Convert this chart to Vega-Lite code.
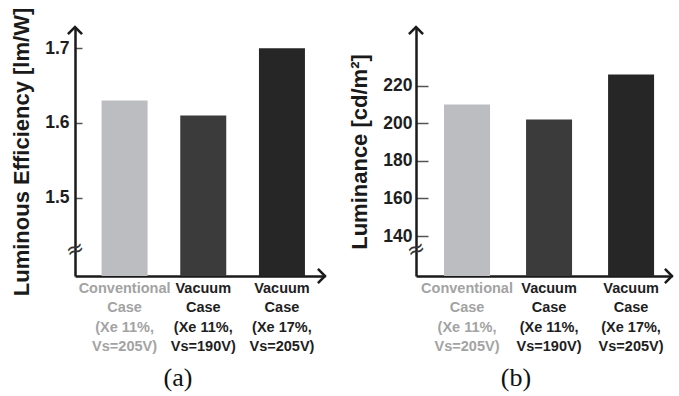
{
  "$schema": "https://vega.github.io/schema/vega-lite/v6.json",
  "background": "#ffffff",
  "padding": {"left": 10, "top": 7, "right": 5, "bottom": 5},
  "spacing": 18,
  "datasets": {
    "eff": [
      {"case": "Conventional\nCase\n(Xe 11%,\nVs=205V)", "value": 1.63},
      {"case": "Vacuum\nCase\n(Xe 11%,\nVs=190V)", "value": 1.61},
      {"case": "Vacuum \nCase\n(Xe 17%,\nVs=205V)", "value": 1.70}
    ],
    "lum": [
      {"case": "Conventional\nCase\n(Xe 11%,\nVs=205V)", "value": 210},
      {"case": "Vacuum\nCase\n(Xe 11%,\nVs=190V)", "value": 202},
      {"case": "Vacuum \nCase\n(Xe 17%,\nVs=205V)", "value": 226}
    ],
    "one": [{}]
  },
  "config": {
    "view": {"stroke": null},
    "font": "Liberation Sans",
    "axis": {
      "domainColor": "#1a1a1a",
      "domainWidth": 2.5,
      "ticks": false,
      "labelFont": "Liberation Sans",
      "labelFontWeight": "bold",
      "labelColor": "#1e1e1e",
      "titleFont": "Liberation Sans",
      "titleFontWeight": "bold",
      "titleColor": "#1a1a1a",
      "grid": false
    }
  },
  "hconcat": [
    {
      "width": 250,
      "height": 249,
      "title": {"text": "(a)", "orient": "bottom", "font": "Liberation Serif", "fontSize": 26, "fontWeight": "normal", "color": "#111111", "offset": 12, "dx": -22},
      "resolve": {"scale": {"x": "independent"}},
      "layer": [
        {
          "data": {"name": "eff"},
          "mark": {"type": "bar", "size": 46, "clip": true},
          "encoding": {
            "x": {
              "field": "case", "type": "nominal", "sort": null,
              "scale": {"paddingInner": 0.415, "paddingOuter": 0.296, "align": 0.57},
              "axis": {
                "title": null, "labelAngle": 0, "labelFontSize": 14.5,
                "labelLineHeight": 19.5, "labelPadding": 5, "labelBaseline": "top",
                "labelExpr": "split(datum.label, '\\n')",
                "labelColor": {"condition": {"test": "indexof(datum.value, 'Conventional') >= 0", "value": "#a3a3a3"}, "value": "#1e1e1e"}
              }
            },
            "y": {
              "field": "value", "type": "quantitative",
              "scale": {"domain": [1.3948, 1.7286], "nice": false, "zero": false},
              "axis": {
                "title": "Luminous Efficiency [lm/W]", "titleFontSize": 22, "titlePadding": 11,
                "values": [1.5, 1.6, 1.7], "format": ".1f",
                "labelFontSize": 17.5, "labelPadding": 6,
                "grid": true, "gridDash": [7, 1000], "gridColor": "#555555", "gridWidth": 1.5
              }
            },
            "color": {
              "field": "case", "type": "nominal", "sort": null, "legend": null,
              "scale": {"range": ["#bcbdc0", "#3b3b3b", "#262626"]}
            }
          }
        },
        {
          "data": {"name": "one"},
          "mark": {"type": "point", "shape": "M-1,1L0,0L1,1", "filled": false, "stroke": "#1a1a1a", "strokeWidth": 2.5, "size": 200, "opacity": 1},
          "encoding": {
            "x": {"datum": 0, "type": "quantitative", "scale": {"domain": [0, 1]}, "axis": null},
            "y": {"datum": 1.7286, "type": "quantitative"}
          }
        },
        {
          "data": {"name": "one"},
          "mark": {"type": "point", "shape": "M-1,-1L0,0L-1,1", "filled": false, "stroke": "#1a1a1a", "strokeWidth": 2.5, "size": 200, "opacity": 1},
          "encoding": {
            "x": {"datum": 1, "type": "quantitative", "scale": {"domain": [0, 1]}, "axis": null},
            "y": {"datum": 1.3948, "type": "quantitative"}
          }
        },
        {
          "data": {"name": "one"},
          "mark": {"type": "text", "text": "≈", "fontSize": 22, "color": "#333333", "align": "center", "baseline": "middle", "font": "DejaVu Sans", "angle": -20},
          "encoding": {
            "x": {"datum": 0, "type": "quantitative", "scale": {"domain": [0, 1]}, "axis": null},
            "y": {"datum": 1.4306, "type": "quantitative"}
          }
        }
      ]
    },
    {
      "width": 256,
      "height": 249,
      "title": {"text": "(b)", "orient": "bottom", "font": "Liberation Serif", "fontSize": 26, "fontWeight": "normal", "color": "#111111", "offset": 12, "dx": -28},
      "resolve": {"scale": {"x": "independent"}},
      "layer": [
        {
          "data": {"name": "lum"},
          "mark": {"type": "bar", "size": 46, "clip": true},
          "encoding": {
            "x": {
              "field": "case", "type": "nominal", "sort": null,
              "scale": {"paddingInner": 0.439, "paddingOuter": 0.28, "align": 0.61},
              "axis": {
                "title": null, "labelAngle": 0, "labelFontSize": 14.5,
                "labelLineHeight": 19.5, "labelPadding": 5, "labelBaseline": "top",
                "labelExpr": "split(datum.label, '\\n')",
                "labelColor": {"condition": {"test": "indexof(datum.value, 'Conventional') >= 0", "value": "#a3a3a3"}, "value": "#1e1e1e"}
              }
            },
            "y": {
              "field": "value", "type": "quantitative",
              "scale": {"domain": [118.7, 251.3], "nice": false, "zero": false},
              "axis": {
                "title": "Luminance [cd/m²]", "titleFontSize": 22, "titlePadding": 11,
                "values": [140, 160, 180, 200, 220],
                "labelFontSize": 17.5, "labelPadding": 4,
                "grid": true, "gridDash": [12, 1000], "gridColor": "#555555", "gridWidth": 1.5
              }
            },
            "color": {
              "field": "case", "type": "nominal", "sort": null, "legend": null,
              "scale": {"range": ["#bcbdc0", "#3b3b3b", "#262626"]}
            }
          }
        },
        {
          "data": {"name": "one"},
          "mark": {"type": "point", "shape": "M-1,1L0,0L1,1", "filled": false, "stroke": "#1a1a1a", "strokeWidth": 2.5, "size": 200, "opacity": 1},
          "encoding": {
            "x": {"datum": 0, "type": "quantitative", "scale": {"domain": [0, 1]}, "axis": null},
            "y": {"datum": 251.3, "type": "quantitative"}
          }
        },
        {
          "data": {"name": "one"},
          "mark": {"type": "point", "shape": "M-1,-1L0,0L-1,1", "filled": false, "stroke": "#1a1a1a", "strokeWidth": 2.5, "size": 200, "opacity": 1},
          "encoding": {
            "x": {"datum": 1, "type": "quantitative", "scale": {"domain": [0, 1]}, "axis": null},
            "y": {"datum": 118.7, "type": "quantitative"}
          }
        },
        {
          "data": {"name": "one"},
          "mark": {"type": "text", "text": "≈", "fontSize": 22, "color": "#333333", "align": "center", "baseline": "middle", "font": "DejaVu Sans", "angle": -20},
          "encoding": {
            "x": {"datum": 0, "type": "quantitative", "scale": {"domain": [0, 1]}, "axis": null},
            "y": {"datum": 132.9, "type": "quantitative"}
          }
        }
      ]
    }
  ]
}
